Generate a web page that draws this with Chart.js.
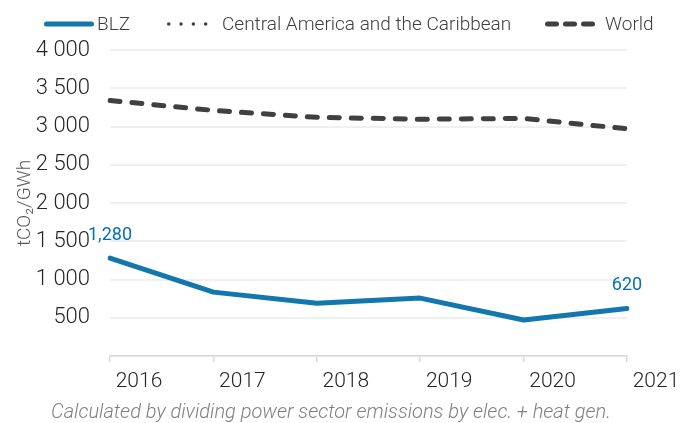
<!DOCTYPE html>
<html>
<head>
<meta charset="utf-8">
<script src="https://cdn.jsdelivr.net/npm/chart.js@4/dist/chart.umd.min.js"></script>
<style>
  html, body { margin: 0; padding: 0; background: #fff; }
  #wrap { width: 698px; height: 423px; position: relative; }
</style>
</head>
<body>
<div id="wrap"><canvas id="graf"></canvas></div>
<script>
"use strict";

const aar            = ["2016", "2017", "2018", "2019", "2020", "2021"];
const blz            = [1280, 835, 690, 757, 470, 620];
const centralAmerica = [null, null, null, null, null, null];
const world          = [3340, 3210, 3120, 3095, 3105, 2970];

const yMin  = 0;
const yMax  = 4000;
const yStep = 500;

const yTitel  = "tCO₂/GWh";
const fodnote = "Calculated by dividing power sector emissions by elec. + heat gen.";

const skrift = "Roboto, 'Liberation Sans', sans-serif";

// legendens placering (venstre kant og laengde af linjeproeve)
const legendeX       = [44, 167, 545];
const legendeLaengde = [50, 52, 57];

// egen legende tegnet paa canvas, saa linjeproeverne ligner originalen
const legendePlugin = {
  id: "legende",
  afterDraw(chart) {
    const ctx = chart.ctx;
    const y = 24;
    ctx.save();
    ctx.font = "300 19px " + skrift;
    chart.data.datasets.forEach((d, i) => {
      const x = legendeX[i], l = legendeLaengde[i];
      const w = d.borderWidth;
      ctx.beginPath();
      ctx.strokeStyle = d.borderColor;
      ctx.lineWidth = w;
      ctx.lineCap = "round";
      ctx.setLineDash(d.legendDash || d.borderDash || []);
      ctx.moveTo(x + w / 2, y);
      ctx.lineTo(x + l - w / 2, y);
      ctx.stroke();
      ctx.setLineDash([]);
      ctx.fillStyle = "#404040";
      ctx.textAlign = "left";
      ctx.textBaseline = "middle";
      ctx.fillText(d.label, x + l + 3, y + 1);
    });

    ctx.font = "italic 300 20px " + skrift;
    ctx.fillStyle = "#7f7f7f";
    ctx.textAlign = "center";
    ctx.textBaseline = "middle";
    ctx.fillText(fodnote, 331, 413);
    ctx.restore();
  }
};

// vaerdietiketter paa foerste og sidste BLZ-punkt
const etiketPlugin = {
  id: "etiketter",
  afterDatasetsDraw(chart) {
    const meta = chart.getDatasetMeta(0);
    const ctx = chart.ctx;
    ctx.save();
    ctx.font = "18px " + skrift;
    ctx.fillStyle = "#0070c0";
    ctx.textAlign = "center";
    ctx.textBaseline = "middle";
    [0, blz.length - 1].forEach(i => {
      const p = meta.data[i];
      ctx.fillText(blz[i].toLocaleString("en-US"), p.x, p.y - 23);
    });
    ctx.restore();
  }
};

new Chart(document.getElementById("graf").getContext("2d"), {
  type: "line",
  data: {
    labels: aar,
    datasets: [
      { label: "BLZ", data: blz, borderColor: "#1277ad", borderWidth: 5, pointRadius: 0, tension: 0, borderCapStyle: "round", borderJoinStyle: "round" },
      { label: "Central America and the Caribbean", data: centralAmerica, borderColor: "#404040", borderWidth: 3.5, borderDash: [0, 13], legendDash: [0, 12.3], pointRadius: 0, borderCapStyle: "round" },
      { label: "World", data: world, borderColor: "#404040", borderWidth: 5, borderDash: [10, 12], legendDash: [9, 9], pointRadius: 0, tension: 0, borderCapStyle: "round" }
    ]
  },
  options: {
    responsive: true,
    maintainAspectRatio: false,
    animation: false,
    layout: { padding: { top: 50, right: 71, bottom: 0, left: 0 } },
    plugins: {
      legend: { display: false },
      tooltip: { enabled: false }
    },
    scales: {
      x: {
        afterFit(s) { s.height = 67; },
        grid: { display: true, drawOnChartArea: false, drawTicks: true, tickLength: 6, color: "#d9d9d9", lineWidth: 1.5 },
        border: { display: true, color: "#d9d9d9", width: 1.5 },
        ticks: { color: "#262626", font: { family: skrift, size: 21, weight: "300" }, labelOffset: 29, padding: 7, maxRotation: 0, autoSkip: false }
      },
      y: {
        min: yMin,
        max: yMax,
        afterFit(s) { s.width = 110; },
        grid: { color: "#f0f0f0", lineWidth: 2, drawTicks: false },
        border: { display: false },
        ticks: {
          stepSize: yStep,
          padding: 20,
          color: "#262626",
          font: { family: skrift, size: 22, weight: "300" },
          callback: v => v === 0 ? "" : v.toLocaleString("en-US").replace(",", " ")
        },
        title: { display: true, text: yTitel, color: "#595959", font: { family: skrift, size: 19, weight: "300" }, padding: { top: 14, bottom: 0 } }
      }
    }
  },
  plugins: [legendePlugin, etiketPlugin]
});
</script>
</body>
</html>
